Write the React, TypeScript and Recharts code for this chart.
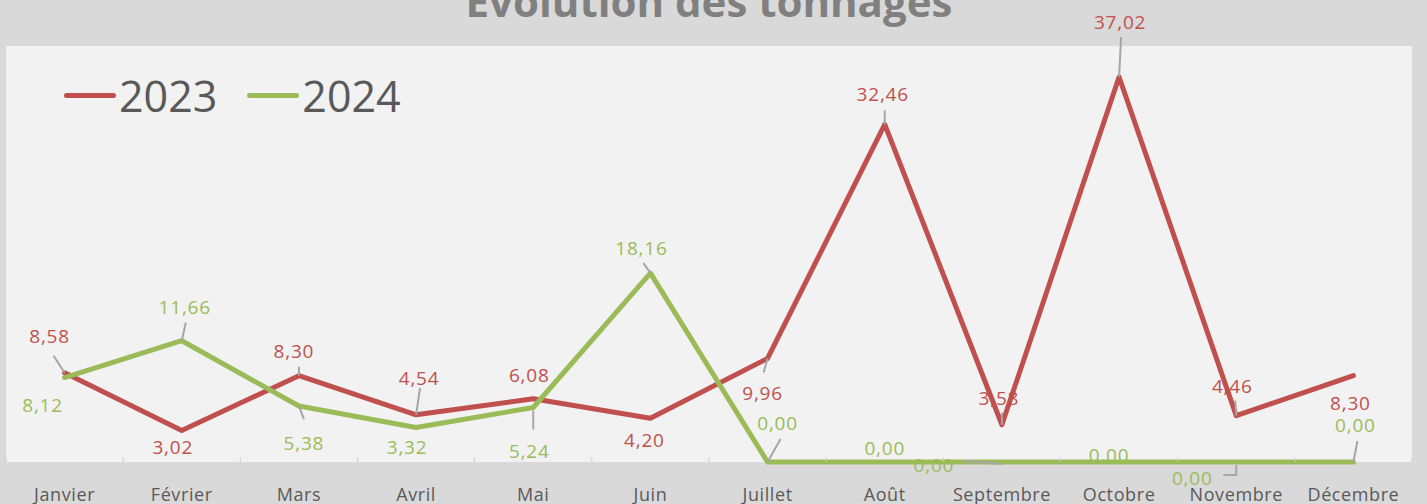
import React from 'react';
import { LineChart, Line, XAxis, YAxis, CartesianGrid, Legend, LabelList } from 'recharts';

const months = ['Janvier', 'Février', 'Mars', 'Avril', 'Mai', 'Juin', 'Juillet', 'Août', 'Septembre', 'Octobre', 'Novembre', 'Décembre'];
const tonnes2023 = [8.58, 3.02, 8.3, 4.54, 6.08, 4.2, 9.96, 32.46, 3.58, 37.02, 4.46, 8.3];
const tonnes2024 = [8.12, 11.66, 5.38, 3.32, 5.24, 18.16, 0, 0, 0, 0, 0, 0];

const data = months.map((m, i) => ({ mois: m, y2023: tonnes2023[i], y2024: tonnes2024[i] }));

const W = 1427;
const H = 504;
const margin = { top: 46, right: 15, left: 6, bottom: 0 };
const band = (W - margin.left - margin.right) / months.length;
const FONT = "'Open Sans', sans-serif";
const RED = '#c0504d';
const GREEN = '#9bbb59';

type Place = { dx: number; dy: number; lead?: number[][] };

// where Excel put each data label, relative to its point
const place2023: Place[] = [
  { dx: -15, dy: -37, lead: [[0, 0], [-11, -17]] },
  { dx: -9, dy: 16 },
  { dx: -5, dy: -25, lead: [[0, 0], [0, -9]] },
  { dx: 3, dy: -37, lead: [[0, 0], [4, -27]] },
  { dx: -4, dy: -24 },
  { dx: -6, dy: 22 },
  { dx: -5, dy: 35, lead: [[0, 0], [-4, 14]] },
  { dx: -2, dy: -30, lead: [[0, 0], [0, -14]] },
  { dx: -3, dy: -27, lead: [[0, 0], [0, -12]] },
  { dx: 1, dy: -55, lead: [[0, 0], [2, -40]] },
  { dx: -4, dy: -30, lead: [[0, 0], [-1, -15]] },
  { dx: -3, dy: 27 },
];
const place2024: Place[] = [
  { dx: -22, dy: 27 },
  { dx: 3, dy: -34, lead: [[0, 0], [4, -18]] },
  { dx: 5, dy: 37, lead: [[0, 0], [5, 13]] },
  { dx: -9, dy: 20 },
  { dx: -4, dy: 43, lead: [[0, 3], [0, 22]] },
  { dx: -9, dy: -25, lead: [[0, 0], [-7, -10]] },
  { dx: 10, dy: -39, lead: [[0, 0], [13, -23]] },
  { dx: 0, dy: -14 },
  { dx: -68, dy: 3, lead: [[-38, -1], [0, 2]] },
  { dx: -10, dy: -7 },
  { dx: -44, dy: 16, lead: [[-13, 13], [0, 13], [0, 3]] },
  { dx: 2, dy: -37, lead: [[0, 0], [4, -21]] },
];

const fmt = (v: number) => Number(v).toFixed(2).replace('.', ',');

const makeLabel = (place: Place[], color: string) => (props: any) => {
  const { index, value } = props;
  const px = props.x ?? props.viewBox?.x;
  const py = props.y ?? props.viewBox?.y;
  const p = place[index];
  if (!p || px == null || py == null) return null;
  return (
    <g>
      {p.lead && (
        <polyline
          points={p.lead.map(([a, b]) => `${px + a},${py + b}`).join(' ')}
          fill="none"
          stroke="#a6a6a6"
          strokeWidth={2}
        />
      )}
      <text x={px + p.dx} y={py + p.dy + 7} textAnchor="middle" fill={color} fontSize={19} letterSpacing={0.8} fontFamily={FONT}>
        {fmt(value)}
      </text>
    </g>
  );
};

const MonthTick = (props: any) => {
  const { x, y, payload } = props;
  const last = payload.value === months[months.length - 1];
  return (
    <g>
      <line x1={x - band / 2} x2={x - band / 2} y1={y - 5} y2={y} stroke="#d0d0d0" />
      {last && <line x1={x + band / 2} x2={x + band / 2} y1={y - 5} y2={y} stroke="#d0d0d0" />}
      <text x={x} y={y + 39} textAnchor="middle" fill="#595959" fontSize={18} letterSpacing={0.6} fontFamily={FONT}>
        {payload.value}
      </text>
    </g>
  );
};

const LegendContent = (props: any) => (
  <div style={{ display: 'flex', alignItems: 'center', fontFamily: FONT, fontSize: 43, lineHeight: '43px', color: '#595959' }}>
    {(props.payload || []).map((e: any, i: number) => (
      <div key={i} style={{ display: 'flex', alignItems: 'center', marginRight: 30 }}>
        <span style={{ display: 'inline-block', width: 52, height: 5, borderRadius: 3, background: e.color, marginRight: 3 }} />
        <span>{e.value}</span>
      </div>
    ))}
  </div>
);

export default function App() {
  return (
    <div style={{ position: 'absolute', left: 0, top: 0, width: W, height: H, background: '#d9d9d9', overflow: 'hidden' }}>
      <div
        style={{
          position: 'absolute', left: margin.left, width: W - margin.left - margin.right, top: -20, textAlign: 'center',
          fontFamily: FONT, fontWeight: 700, fontSize: 42, lineHeight: '42px', color: '#808080',
        }}
      >
        Evolution des tonnages
      </div>
      <LineChart width={W} height={H} data={data} margin={margin}>
        <CartesianGrid fill="#f2f2f2" stroke="none" horizontal={false} vertical={false} />
        <XAxis
          dataKey="mois"
          interval={0}
          height={42}
          padding={{ left: band / 2, right: band / 2 }}
          tickSize={0}
          tickMargin={0}
          tickLine={false}
          axisLine={false}
          tick={<MonthTick />}
        />
        <YAxis hide domain={[0, 40]} />
        <Legend
          layout="vertical"
          verticalAlign="middle"
          align="center"
          content={<LegendContent />}
          wrapperStyle={{ left: 64, top: 74, width: 420 }}
        />
        <Line
          type="linear"
          dataKey="y2023"
          name="2023"
          stroke={RED}
          strokeWidth={5}
          strokeLinecap="round"
          strokeLinejoin="round"
          dot={false}
          activeDot={false}
          isAnimationActive={false}
        >
          <LabelList dataKey="y2023" content={makeLabel(place2023, RED)} />
        </Line>
        <Line
          type="linear"
          dataKey="y2024"
          name="2024"
          stroke={GREEN}
          strokeWidth={5}
          strokeLinecap="round"
          strokeLinejoin="round"
          dot={false}
          activeDot={false}
          isAnimationActive={false}
        >
          <LabelList dataKey="y2024" content={makeLabel(place2024, GREEN)} />
        </Line>
      </LineChart>
    </div>
  );
}
